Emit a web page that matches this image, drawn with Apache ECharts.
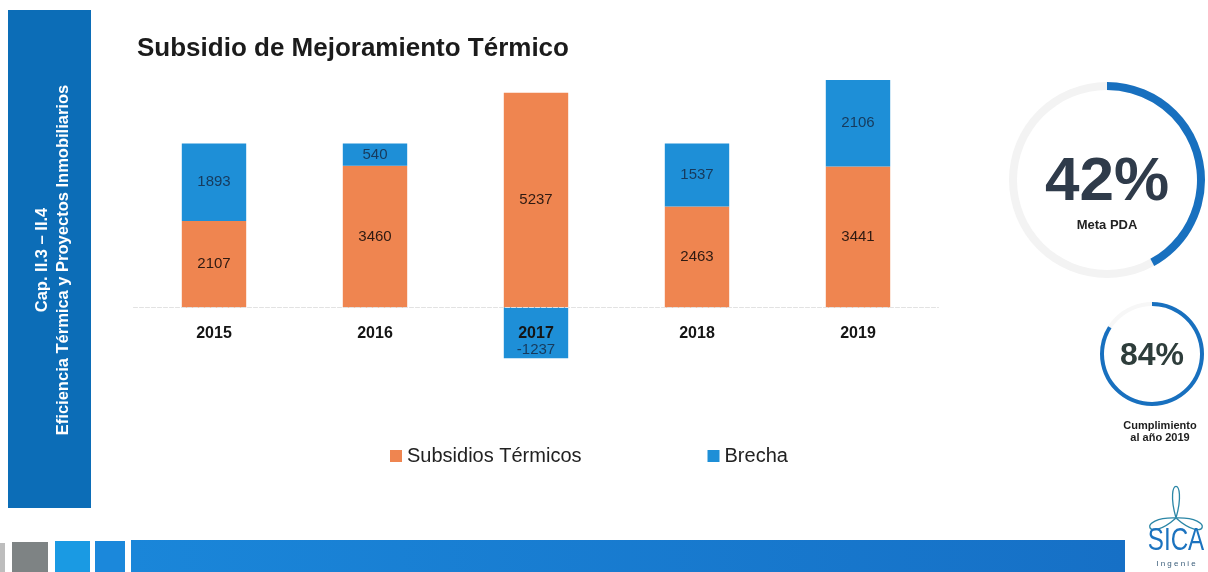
<!DOCTYPE html>
<html>
<head>
<meta charset="utf-8">
<script src="https://cdn.jsdelivr.net/npm/echarts@6/dist/echarts.min.js"></script>
<style>
html,body{margin:0;padding:0;background:#fff;}
#c{width:1208px;height:572px;}
</style>
</head>
<body>
<div id="c"></div>
<script>
var years = ['2015', '2016', '2017', '2018', '2019'];
var subsidios = [2107, 3460, 5237, 2463, 3441];
var brecha = [1893, 540, -1237, 1537, 2106];
var metaPDA = [42];
var cumplimiento = [84];

var ORANGE = '#EF8550';
var BLUE = '#1E8FD7';
var FONT = 'Liberation Sans';

var chart = echarts.init(document.getElementById('c'), null, {renderer: 'canvas'});

// trefoil logo loops
function loop(cx, cy, angDeg, L, spread) {
  var a = angDeg * Math.PI / 180, s = spread * Math.PI / 180;
  return {
    type: 'bezierCurve',
    shape: {
      x1: cx, y1: cy, x2: cx, y2: cy,
      cpx1: cx + L * Math.cos(a - s), cpy1: cy + L * Math.sin(a - s),
      cpx2: cx + L * Math.cos(a + s), cpy2: cy + L * Math.sin(a + s)
    },
    style: {stroke: '#2b86a6', lineWidth: 1.3, fill: null}
  };
}

var option = {
  backgroundColor: '#ffffff',
  animation: false,
  textStyle: {fontFamily: FONT},
  title: {
    text: 'Subsidio de Mejoramiento Térmico',
    left: 132, top: 31,
    textStyle: {fontSize: 26, fontWeight: 'bold', color: '#1b1b1b', fontFamily: FONT}
  },
  legend: {
    left: 385, top: 441,
    itemWidth: 12, itemHeight: 12, itemGap: 126,
    icon: 'rect',
    textStyle: {fontSize: 20, color: '#222', fontFamily: FONT},
    data: ['Subsidios Térmicos', 'Brecha']
  },
  grid: {left: 133.5, right: 269.5, top: 61.5, bottom: 203, containLabel: false},
  xAxis: {
    type: 'category',
    data: years,
    z: 10,
    offset: -61.5,
    axisLine: {show: true, onZero: false, lineStyle: {color: '#e2e2e2', type: 'dashed', width: 1}},
    axisTick: {show: false},
    axisLabel: {margin: 18, fontSize: 16, fontWeight: 'bold', color: '#151515', fontFamily: FONT}
  },
  yAxis: {
    type: 'value', min: -1500, max: 6000, show: false,
    splitLine: {show: false}
  },
  series: [
    {
      name: 'Subsidios Térmicos', type: 'bar', stack: 'total', barWidth: '40%',
      data: subsidios,
      itemStyle: {color: ORANGE},
      label: {show: true, position: 'inside', fontSize: 15, color: '#2e1a12', fontFamily: FONT}
    },
    {
      name: 'Brecha', type: 'bar', stack: 'total', barWidth: '40%',
      data: brecha.map(function (v) {
        return v < 0 ? {value: v, label: {position: 'insideBottom', distance: 1}} : v;
      }),
      itemStyle: {color: BLUE},
      label: {show: true, position: 'inside', fontSize: 15, color: '#173a5c', fontFamily: FONT}
    },
    {
      type: 'gauge', center: [1107, 180], radius: 98,
      startAngle: 90, endAngle: -270, min: 0, max: 100,
      pointer: {show: false},
      progress: {show: true, width: 8, itemStyle: {color: '#1870BF'}},
      axisLine: {lineStyle: {width: 8, color: [[1, '#f3f3f3']]}},
      axisTick: {show: false}, splitLine: {show: false}, axisLabel: {show: false},
      title: {offsetCenter: [0, 45], fontSize: 13, fontWeight: 'bold', color: '#222', fontFamily: FONT},
      detail: {offsetCenter: [0, 3], formatter: '{value}%', fontSize: 62, fontWeight: 'bold', color: '#2f3b4a', fontFamily: FONT},
      data: [{value: metaPDA[0], name: 'Meta PDA'}]
    },
    {
      type: 'gauge', center: [1152, 354], radius: 52,
      startAngle: 90, endAngle: -270, min: 0, max: 100,
      pointer: {show: false},
      progress: {show: true, width: 4, itemStyle: {color: '#1870BF'}},
      axisLine: {lineStyle: {width: 4, color: [[1, '#f7f7f7']]}},
      axisTick: {show: false}, splitLine: {show: false}, axisLabel: {show: false},
      title: {show: false},
      detail: {offsetCenter: [0, 2], formatter: '{value}%', fontSize: 32, fontWeight: 'bold', color: '#2e3d3b', fontFamily: FONT},
      data: [{value: cumplimiento[0], name: 'Cumplimiento'}]
    }
  ],
  graphic: [
    // side panel
    {type: 'rect', shape: {x: 8, y: 10, width: 83, height: 498}, style: {fill: '#0C6DB7'}, z: 1},
    {
      type: 'text', x: 53, y: 260, rotation: Math.PI / 2, z: 2,
      style: {
        text: 'Cap. II.3 – II.4\nEficiencia Térmica y Proyectos Inmobiliarios',
        fill: '#ffffff', fontSize: 16.5, fontWeight: 'bold', fontFamily: FONT,
        lineHeight: 21, align: 'center', verticalAlign: 'middle'
      }
    },
    // bottom strip
    {type: 'rect', shape: {x: 0, y: 543, width: 5, height: 29}, style: {fill: '#bdbdbd'}},
    {type: 'rect', shape: {x: 12, y: 542, width: 36, height: 30}, style: {fill: '#7e8384'}},
    {type: 'rect', shape: {x: 55, y: 541, width: 35, height: 31}, style: {fill: '#1a9ae3'}},
    {type: 'rect', shape: {x: 95, y: 541, width: 30, height: 31}, style: {fill: '#1b88db'}},
    {
      type: 'rect', shape: {x: 131, y: 540, width: 994, height: 32},
      style: {fill: new echarts.graphic.LinearGradient(0, 0, 1, 0, [
        {offset: 0, color: '#1a86d9'}, {offset: 1, color: '#1670c6'}
      ])}
    },
    // small gauge caption
    {
      type: 'text', x: 1160, y: 432,
      style: {
        text: 'Cumplimiento\nal año 2019', fill: '#1d1d1d', fontSize: 11, fontWeight: 'bold',
        fontFamily: FONT, lineHeight: 12, align: 'center', verticalAlign: 'middle'
      }
    },
    // logo
    loop(1176, 518, -90, 44, 16),
    loop(1176, 518, 160, 40, 22),
    loop(1176, 518, 20, 40, 22),
    {
      type: 'text', x: 1176, y: 541, scaleX: 0.78,
      style: {
        text: 'SICA', fill: '#1c73bf', fontSize: 31, fontFamily: FONT,
        align: 'center', verticalAlign: 'middle'
      }
    },
    {
      type: 'text', x: 1176, y: 564,
      style: {
        text: 'I n g e n i e', fill: '#3a5d7a', fontSize: 8, fontFamily: FONT,
        align: 'center', verticalAlign: 'middle'
      }
    }
  ]
};
chart.setOption(option);
</script>
</body>
</html>
